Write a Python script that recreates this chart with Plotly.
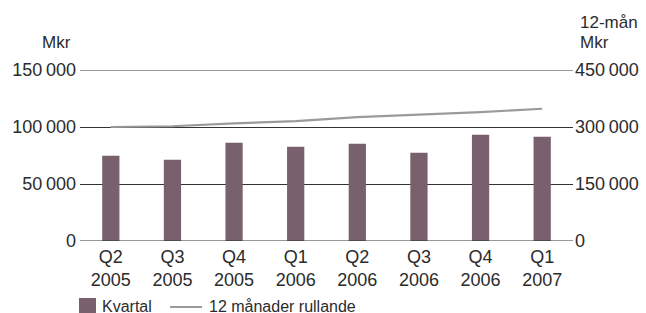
import plotly.graph_objects as go

categories = ["Q2<br>2005", "Q3<br>2005", "Q4<br>2005", "Q1<br>2006",
              "Q2<br>2006", "Q3<br>2006", "Q4<br>2006", "Q1<br>2007"]
kvartal = [74800, 71300, 86100, 82600, 85200, 77400, 93100, 91400]
rullande = [300000, 302000, 309500, 315700, 326100, 332200, 339200, 348000]

left_ticks = [0, 50000, 100000, 150000]
left_labels = ["0", "50\u2009000", "100\u2009000", "150\u2009000"]
right_ticks = [0, 150000, 300000, 450000]
right_labels = ["0", "150\u2009000", "300\u2009000", "450\u2009000"]

FONT = "Liberation Sans"
TXT = "#2b2b2b"
BAR = "#78606C"
LINE = "#9a9a9a"
GRID = "#333333"

W, H = 646, 313
L, R, T, B = 80, 73, 70, 72
pw = W - L - R
ph = H - T - B


def px(x):
    return (x - L) / pw


def py(y):
    return 1 - (y - T) / ph


fig = go.Figure()
fig.add_trace(go.Bar(
    x=categories, y=kvartal, name="Kvartal",
    marker=dict(color=BAR, line=dict(width=0)),
    width=0.28, yaxis="y",
))
fig.add_trace(go.Scatter(
    x=categories, y=rullande, name="12 månader rullande",
    mode="lines", line=dict(color=LINE, width=2.2), yaxis="y2",
))

shapes = []
# edge gridlines (plotly skips grid lines at the plot edges)
for v in [0, 150000]:
    shapes.append(dict(type="line", xref="paper", yref="y", x0=0, x1=1,
                       y0=v, y1=v, line=dict(color=GRID, width=1.2), layer="above"))
# manual legend
shapes.append(dict(type="rect", xref="paper", yref="paper",
                   x0=px(79), x1=px(96), y0=py(298), y1=py(315),
                   fillcolor=BAR, line=dict(width=0)))
shapes.append(dict(type="line", xref="paper", yref="paper",
                   x0=px(170), x1=px(202), y0=py(307), y1=py(307),
                   line=dict(color=LINE, width=2)))

annotations = [
    dict(text="Mkr", x=px(73), y=py(42.5), xanchor="right"),
    dict(text="12-mån", x=px(578), y=py(22.5), xanchor="left"),
    dict(text="Mkr", x=px(578), y=py(43), xanchor="left"),
    dict(text="Kvartal", x=px(100), y=py(306.5), xanchor="left"),
    dict(text="12 månader rullande", x=px(207), y=py(306.5), xanchor="left"),
]
for a in annotations:
    a.update(xref="paper", yref="paper", yanchor="middle", showarrow=False,
             font=dict(size=17, color=TXT, family=FONT))
annotations[3]["font"]["size"] = 16
annotations[4]["font"]["size"] = 16

fig.update_layout(
    width=W, height=H,
    margin=dict(l=L, r=R, t=T, b=B, autoexpand=False),
    paper_bgcolor="white", plot_bgcolor="white",
    font=dict(family=FONT, size=18, color=TXT),
    showlegend=False,
    xaxis=dict(type="category", range=[-0.5, 7.5], showgrid=False,
               showline=False, zeroline=False, ticks="", automargin=False,
               ticklabelstandoff=3, tickfont=dict(size=18, color=TXT)),
    yaxis=dict(range=[0, 150000], tickvals=left_ticks, ticktext=left_labels,
               showgrid=True, gridcolor=GRID, gridwidth=1.2, automargin=False,
               zeroline=False, showline=False, ticks="",
               ticklabelstandoff=3, tickfont=dict(size=18, color=TXT)),
    yaxis2=dict(range=[0, 450000], tickvals=right_ticks, ticktext=right_labels,
                overlaying="y", side="right", showgrid=False, zeroline=False,
                showline=False, ticks="", automargin=False,
                ticklabelstandoff=1, tickfont=dict(size=18, color=TXT)),
    shapes=shapes,
    annotations=annotations,
)

fig.write_html("out.html", config={"displayModeBar": False},
               post_script="document.body.style.margin='0px';document.body.style.overflow='hidden';")
